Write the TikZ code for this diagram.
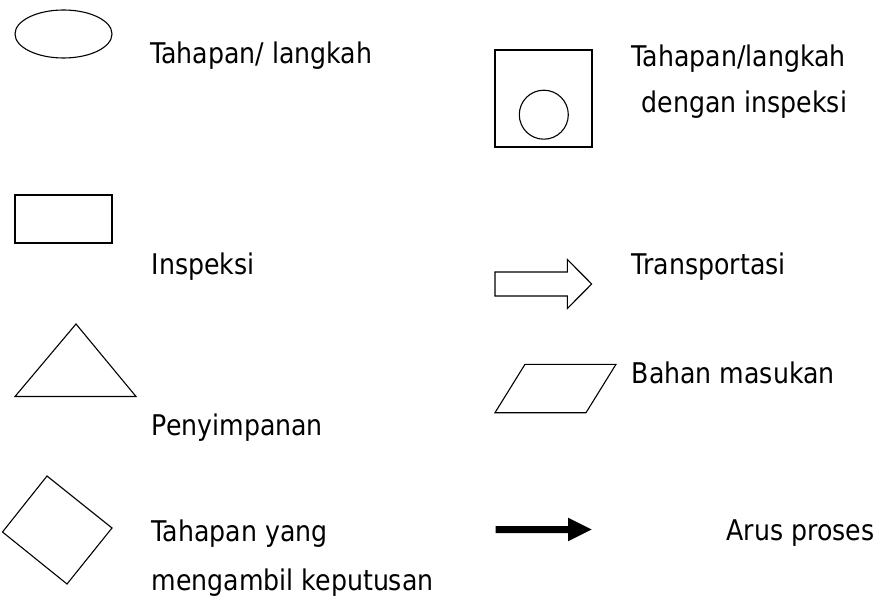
\documentclass[tikz,border=0pt]{standalone}
\usepackage{fontspec}
\setmainfont{DejaVu Sans}[FakeStretch=0.885]
\tikzset{
  lbl/.style={anchor=base west, inner sep=0pt, outer sep=0pt, font=\fontsize{28.5}{34}\selectfont},
  shp/.style={draw=black, line width=1.1pt, line join=miter},
}
\begin{document}
\begin{tikzpicture}[x=1pt,y=-1pt]
\useasboundingbox (0,0) rectangle (883,601);
% shapes
\draw[shp] (63.5,34) ellipse [x radius=48.5, y radius=24];
\draw[shp] (495,50) rectangle (592,147);
\draw[shp] (543.8,114.7) circle [radius=24.5];
\draw[shp] (15,195) rectangle (112,243);
\draw[shp] (76,324) -- (136,396.5) -- (15,396.5) -- cycle;
\draw[shp] (47,476) -- (112,528) -- (67,584) -- (2.5,532) -- cycle;
\draw[shp] (495,272) -- (567.3,272) -- (567.3,259.5) -- (591.7,284) -- (567.3,308.5) -- (567.3,296) -- (495,296) -- cycle;
\draw[shp] (525,364.3) -- (616,364.3) -- (586,412.7) -- (495,412.7) -- cycle;
\fill[black] (495.7,526) -- (568,526) -- (568,517.7) -- (591.7,529.5) -- (568,541.3) -- (568,533) -- (495.7,533) -- cycle;
% labels
\node[lbl] (t1) at (150,63.3) {Tahapan/ langkah};
\node[lbl] (t2) at (631.7,66.7) {Tahapan/langkah};
\node[lbl] (t3) at (641.7,113) {dengan inspeksi};
\node[lbl] (t4) at (151.7,275) {Inspeksi};
\node[lbl] (t5) at (631.7,275) {Transportasi};
\node[lbl] (t6) at (631.7,383.3) {Bahan masukan};
\node[lbl] (t7) at (151.7,435) {Penyimpanan};
\node[lbl] (t8) at (151.7,541.7) {Tahapan yang};
\node[lbl] (t9) at (151.7,590) {mengambil keputusan};
\node[lbl] (t10) at (726.7,540) {Arus proses};
\end{tikzpicture}
\end{document}
